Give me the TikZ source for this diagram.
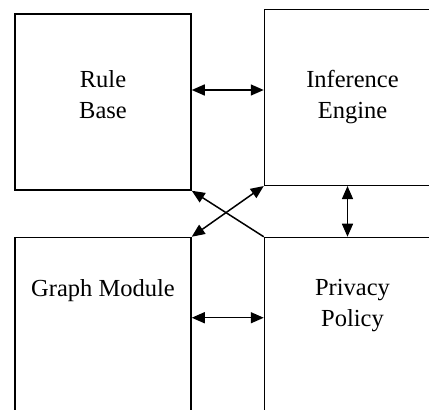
\documentclass[tikz,border=0pt]{standalone}
\usepackage{fontspec}
\setmainfont{Liberation Serif}
\usetikzlibrary{positioning,arrows.meta}

\begin{document}
\begin{tikzpicture}[x=1pt,y=1pt,
		box/.style={draw, line width=1.5pt, minimum width=176pt, minimum height=176pt, inner sep=0pt},
		caption/.style={align=center, font=\fontsize{24.5}{31}\selectfont, inner sep=0pt},
		biarrow/.style={{Triangle[length=13pt,width=11pt]}-{Triangle[length=13pt,width=11pt]}, line width=1.5pt},
		uniarrow/.style={-{Triangle[length=13pt,width=11pt]}, line width=1.5pt},
		]
		\useasboundingbox (0,0) rectangle (429,410);
		\clip (0,0) rectangle (429,410);
		
		%Boxes
		\node[box]      (rb)       at (103,308)                {};
		\node[box]      (ie)       [right=72pt of rb, yshift=4.7pt] {};
		\node[box]      (gm)       [below=46pt of rb]          {};
		\node[box]      (pp)       [right=72pt of gm]          {};
		
		%Texts
		\node[caption]  (rbtext)   at ([yshift=7.5pt]rb.center)  {Rule\\Base};
		\node[caption]  (ietext)   at (ie.center)                {Inference\\Engine};
		\node[caption]  (gmtext)   at ([yshift=-54pt]gm.north)   {Graph Module};
		\node[caption]  (pptext)   at ([yshift=-69pt]pp.north)   {Privacy\\Policy};
		
		%Lines
		\draw[biarrow] ([yshift=12pt]rb.east) -- ([yshift=12pt]rb.east -| ie.west);
		\draw[biarrow] ([xshift=-5pt]ie.south) -- ([xshift=-5pt]ie.south |- pp.north);
		\draw[biarrow] ([yshift=-81pt]gm.north east) -- ([yshift=-81pt]gm.north east -| pp.west);
		\draw[biarrow] (gm.north east) -- (ie.south west);
		\draw[uniarrow] (pp.north west) -- (rb.south east);
\end{tikzpicture}
\end{document}
